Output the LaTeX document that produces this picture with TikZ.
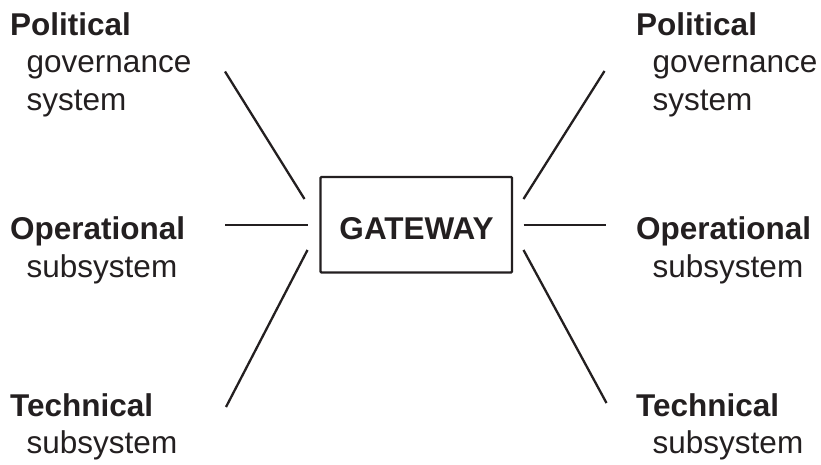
\documentclass[tikz,border=0pt]{standalone}
\usepackage{fontspec}
\setmainfont{Liberation Sans}
\definecolor{ink}{RGB}{35,31,32}
\begin{document}
\begin{tikzpicture}[x=1pt,y=-1pt,
  lbl/.style={anchor=base west,inner sep=0pt,text=ink,font=\fontsize{31.5}{37.5}\selectfont},
  head/.style={lbl,font=\fontsize{31.5}{37.5}\selectfont\bfseries},
  spoke/.style={draw=ink,line width=2.3pt},
  gatebox/.style={draw=ink,line width=2.4pt,rounded corners=1pt,minimum width=191.5pt,minimum height=95.5pt,inner sep=0pt,text=ink,font=\fontsize{31.5}{37.5}\selectfont\bfseries}]
\useasboundingbox (0,0) rectangle (821,464);

% central box
\node[gatebox] (gw) at (416.25,224.75) {};
\node[head,anchor=base] (gwtext) at (416.5,239.5) {GATEWAY};

% left column labels
\node[head] (lp1) at (10,35) {Political};
\node[lbl]  (lp2) at (26.5,72.5) {governance};
\node[lbl]  (lp3) at (26.5,110) {system};
\node[head] (lo1) at (10,239.5) {Operational};
\node[lbl]  (lo2) at (26.5,277) {subsystem};
\node[head] (lt1) at (10,416) {Technical};
\node[lbl]  (lt2) at (26.5,453) {subsystem};

% right column labels
\node[head] (rp1) at (636,35) {Political};
\node[lbl]  (rp2) at (652.5,72.5) {governance};
\node[lbl]  (rp3) at (652.5,110) {system};
\node[head] (ro1) at (636,239.5) {Operational};
\node[lbl]  (ro2) at (652.5,277) {subsystem};
\node[head] (rt1) at (636,416) {Technical};
\node[lbl]  (rt2) at (652.5,453) {subsystem};

% spoke end points
\coordinate (ltA) at (225,71.5);
\coordinate (ltB) at (304.5,199);
\coordinate (lmA) at (225,225);
\coordinate (lmB) at (307.5,225);
\coordinate (lbA) at (307.5,250);
\coordinate (lbB) at (226,407);
\coordinate (rtA) at (523.5,199);
\coordinate (rtB) at (604.5,71);
\coordinate (rmA) at (523.5,225);
\coordinate (rmB) at (606,225);
\coordinate (rbA) at (523.5,250);
\coordinate (rbB) at (606.5,403);

\draw[spoke] (ltA) -- (ltB);
\draw[spoke] (lmA) -- (lmB);
\draw[spoke] (lbA) -- (lbB);
\draw[spoke] (rtA) -- (rtB);
\draw[spoke] (rmA) -- (rmB);
\draw[spoke] (rbA) -- (rbB);
\end{tikzpicture}
\end{document}
